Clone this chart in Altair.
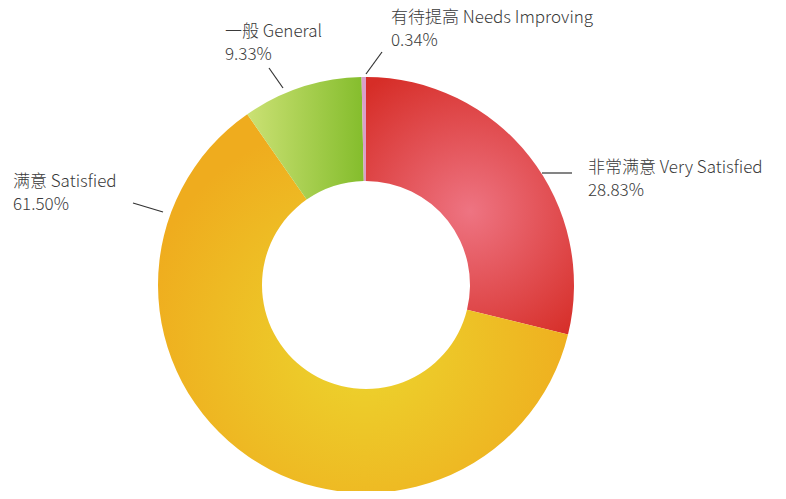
import math
import altair as alt
import pandas as pd

# ---- data ----
categories = ["非常满意 Very Satisfied", "满意 Satisfied", "一般 General", "有待提高 Needs Improving"]
values = [28.83, 61.50, 9.33, 0.34]
order = [0, 1, 2, 3]

# ---- annotation layout (plot coordinates) ----
label_x = [580, 5, 217, 383]
label_y = [152, 166, 16, 2]
line_x1 = [534, 125, 261, 374]
line_y1 = [165, 195, 60, 44]
line_x2 = [564, 155, 275, 358]
line_y2 = [165, 204, 80, 66]

df = pd.DataFrame({"cat": categories, "value": values, "order": order})
lab = pd.DataFrame({"cat": categories, "value": values, "lx": label_x, "ly": label_y,
                    "x1": line_x1, "y1": line_y1, "x2": line_x2, "y2": line_y2})

CX, CY = 358, 277
R_OUT, R_IN = 208, 104
FONT = "Noto Sans CJK SC"

def radial(c0, c1, cx=0.5, cy=0.5, r2=0.55):
    return alt.RadialGradient(
        gradient="radial",
        stops=[alt.GradientStop(color=c0, offset=0), alt.GradientStop(color=c1, offset=1)],
        x1=cx, y1=cy, r1=0, x2=cx, y2=cy, r2=r2,
    )

def linear(c0, c1):
    return alt.LinearGradient(
        gradient="linear",
        stops=[alt.GradientStop(color=c0, offset=0), alt.GradientStop(color=c1, offset=1)],
        x1=0, y1=0.5, x2=1, y2=0.5,
    )

fills = [
    radial("#ee7482", "#d62d27", 0.5, 0.52, 0.62),
    radial("#ecd62e", "#efac1e", 0.5, 0.6, 0.55),
    linear("#cbe174", "#84bd2c"),
    "#d9a0c9",
]

base = (
    alt.Chart(df)
    .transform_window(cum="sum(value)", sort=[alt.SortField("order")], frame=[None, 0])
    .transform_calculate(start="datum.cum - datum.value")
)

theta_scale = alt.Scale(domain=[0, 100], range=[0, 2 * math.pi])

layers = []
for i, f in enumerate(fills):
    layers.append(
        base.transform_filter(alt.datum.order == i)
        .mark_arc(outerRadius=R_OUT, innerRadius=R_IN, fill=f, strokeWidth=0)
        .encode(
            theta=alt.Theta("start:Q", scale=theta_scale),
            theta2="cum:Q",
            x=alt.value(CX),
            y=alt.value(CY),
        )
    )

lines = alt.Chart(lab).mark_rule(color="#333333", strokeWidth=1.2).encode(
    x=alt.X("x1:Q", scale=None), y=alt.Y("y1:Q", scale=None),
    x2="x2:Q", y2="y2:Q",
)

txt1 = alt.Chart(lab).mark_text(
    align="left", baseline="top", font=FONT, fontSize=17, fontWeight=300, color="#3a3a3a"
).encode(x=alt.X("lx:Q", scale=None), y=alt.Y("ly:Q", scale=None), text="cat:N")

txt2 = (
    alt.Chart(lab)
    .transform_calculate(pct="format(datum.value, '.2f') + '%'")
    .mark_text(align="left", baseline="top", font=FONT, fontSize=17, fontWeight=300,
               color="#3a3a3a", dy=23)
    .encode(x=alt.X("lx:Q", scale=None), y=alt.Y("ly:Q", scale=None), text="pct:N")
)

chart = (
    alt.layer(*layers, lines, txt1, txt2)
    .properties(width=770, height=483, padding=0, autosize=alt.AutoSizeParams(type="none"))
    .configure_view(stroke=None)
)

chart.save("out.html", embed_options={"renderer": "svg", "actions": False})
